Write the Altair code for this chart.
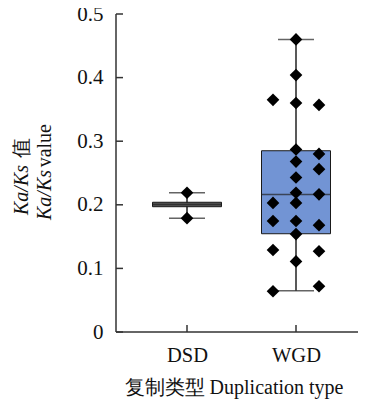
import altair as alt
import pandas as pd

# ---- data ----
types = ["DSD", "WGD"]
box_min = [0.179, 0.065]
box_q1 = [0.197, 0.1545]
box_median = [0.2005, 0.216]
box_q3 = [0.204, 0.285]
box_max = [0.219, 0.460]
box_fill = ["#555555", "#7294d4"]

dsd_center = [0.219, 0.179]
wgd_center = [0.460, 0.404, 0.360, 0.287, 0.268, 0.243, 0.219, 0.203, 0.1745, 0.154, 0.111]
wgd_left = [0.365, 0.203, 0.1745, 0.129, 0.064]
wgd_right = [0.357, 0.280, 0.256, 0.2165, 0.168, 0.127, 0.072]

y_ticks = [0, 0.1, 0.2, 0.3, 0.4, 0.5]

# ---- tables ----
summary = pd.DataFrame({"type": types, "lo": box_min, "q1": box_q1,
                        "med": box_median, "q3": box_q3, "hi": box_max})
pts = pd.DataFrame(
    [{"type": "DSD", "col": "C", "v": v} for v in dsd_center]
    + [{"type": "WGD", "col": "C", "v": v} for v in wgd_center]
    + [{"type": "WGD", "col": "L", "v": v} for v in wgd_left]
    + [{"type": "WGD", "col": "R", "v": v} for v in wgd_right]
)
ticks_df = pd.DataFrame({"v": y_ticks})
cat_df = pd.DataFrame({"type": types})

W, H = 242, 318
FONT = "Liberation Serif"

xs = alt.Scale(type="point", domain=types, range=[71, 180], padding=0)
ys = alt.Scale(domain=[0, 0.5], nice=False)

x_axis = alt.Axis(title=None, labelAngle=0, labelPadding=13, labelFont=FONT, labelFontSize=20.5,
                  labelColor="#111", ticks=False, tickSize=0, domain=False, grid=False)
y_axis = alt.Axis(title=None, values=y_ticks, format="~g", labelPadding=13, labelFont=FONT,
                  labelFontSize=21, labelColor="#111", ticks=False, tickSize=0, domain=False,
                  grid=False)


def X():
    return alt.X("type:N", scale=xs, sort=types, axis=x_axis)


def Y(field):
    return alt.Y(field, scale=ys, axis=y_axis)


base_s = alt.Chart(summary)

whisker = base_s.mark_rule(color="#222", strokeWidth=1.5).encode(
    x=X(), y=Y("lo:Q"), y2="hi:Q")
caps_lo = base_s.mark_tick(color="#222", size=36, thickness=1.5, orient="horizontal").encode(
    x=X(), y=Y("lo:Q"))
caps_hi = base_s.mark_tick(color="#222", size=36, thickness=1.5, orient="horizontal").encode(
    x=X(), y=Y("hi:Q"))
box = base_s.mark_bar(size=69, stroke="#1a1a1a", strokeWidth=1, opacity=1).encode(
    x=X(), y=Y("q1:Q"), y2="q3:Q",
    fill=alt.Fill("type:N", scale=alt.Scale(domain=types, range=box_fill), legend=None))
median = base_s.mark_tick(color="#222", size=69, thickness=1.5, orient="horizontal").encode(
    x=X(), y=Y("med:Q"))

points = alt.Chart(pts).mark_point(shape="diamond", filled=True, color="#000", size=160,
                                   opacity=1).encode(
    x=X(),
    xOffset=alt.XOffset("col:N", scale=alt.Scale(type="point", domain=["L", "C", "R"],
                                                  range=[-23, 23], padding=0)),
    y=Y("v:Q"))

ytick_marks = alt.Chart(ticks_df).mark_rule(color="#333", strokeWidth=1.5).encode(
    y=Y("v:Q"), x=alt.value(0), x2=alt.value(7))
xtick_marks = alt.Chart(cat_df).mark_rule(color="#333", strokeWidth=1.5).encode(
    x=X(), y=alt.value(H), y2=alt.value(H - 7))

# axis lines
y_line = alt.Chart(cat_df.head(1)).mark_rule(color="#333", strokeWidth=1.5).encode(
    x=alt.value(0), y=alt.value(0), y2=alt.value(H))
x_line = alt.Chart(cat_df.head(1)).mark_rule(color="#333", strokeWidth=1.5).encode(
    x=alt.value(0), x2=alt.value(W), y=alt.value(H))


def label(text, x, y, italic=False, align="center", angle=0):
    return alt.Chart(pd.DataFrame({"t": [text]})).mark_text(
        font=FONT, fontSize=20, color="#111", align=align, baseline="alphabetic",
        angle=angle, fontStyle="italic" if italic else "normal").encode(
        text="t:N", x=alt.value(x), y=alt.value(y))


titles = [
    label("Ka/Ks", -88, 201, italic=True, align="left", angle=270),
    label("值", -88, 124, align="right", angle=270),
    label("Ka/Ks", -65, 206, italic=True, align="left", angle=270),
    label("value", -65, 110, align="right", angle=270),
    label("复制类型 Duplication type", 118, 380),
]

chart = alt.layer(whisker, caps_lo, caps_hi, box, median, points, ytick_marks, xtick_marks,
                  y_line, x_line, *titles).properties(
    width=W, height=H,
    autosize=alt.AutoSizeParams(type="none"),
    padding={"left": 108, "top": 6, "right": 0, "bottom": 70},
).configure_view(stroke=None)

chart.save("out.html", embed_options={"renderer": "svg", "actions": False})
